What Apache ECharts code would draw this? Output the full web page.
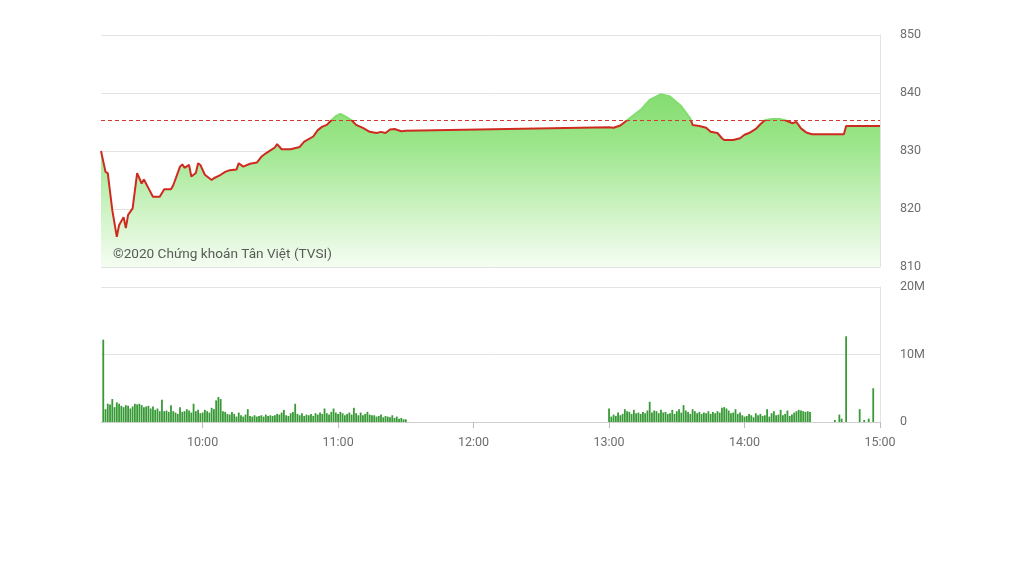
<!DOCTYPE html>
<html>
<head>
<meta charset="utf-8">
<script src="https://cdn.jsdelivr.net/npm/echarts@6/dist/echarts.min.js"></script>
<style>
html,body{margin:0;padding:0;background:#fff;}
#chart{width:1024px;height:574px;}
</style>
</head>
<body>
<div id="chart"></div>
<script>
// ---- Data ----
var priceTimes = ['09:15','09:17','09:18','09:20','09:22','09:23','09:25','09:26','09:27','09:29','09:31','09:33','09:34','09:36','09:38','09:41','09:43','09:46','09:47','09:50','09:51','09:52','09:54','09:55','09:57','09:58','09:59','10:01','10:04','10:05','10:08','10:10','10:12','10:15','10:16','10:18','10:21','10:24','10:26','10:28','10:30','10:32','10:33','10:35','10:39','10:43','10:45','10:49','10:51','10:53','10:55','10:57','10:59','11:01','11:03','11:06','11:08','11:11','11:14','11:17','11:19','11:21','11:23','11:25','11:28','11:30','13:00','13:02','13:05','13:08','13:14','13:18','13:23','13:27','13:32','13:36','13:37','13:40','13:43','13:45','13:48','13:50','13:51','13:55','13:58','14:00','14:02','14:05','14:07','14:09','14:12','14:16','14:18','14:20','14:21','14:23','14:25','14:27','14:28','14:30','14:44','14:45','15:00'];
var priceValues = [830.0,826.4,826.2,819.8,815.2,817.2,818.6,816.7,819.0,820.1,826.2,824.4,825.1,823.6,822.1,822.1,823.4,823.4,824.1,827.3,827.7,827.1,827.6,825.6,826.2,827.9,827.6,825.9,825.0,825.3,825.9,826.4,826.7,826.8,827.9,827.3,827.8,828.0,829.0,829.6,830.1,830.6,831.2,830.3,830.3,830.7,831.6,832.5,833.6,834.2,834.5,835.3,836.0,836.4,836.0,835.3,834.5,834.0,833.3,833.1,833.3,833.1,833.7,833.8,833.4,833.5,834.1,834.0,834.4,835.3,837.1,838.8,839.8,839.4,837.7,835.6,834.5,834.3,834.0,833.3,833.1,832.2,831.9,831.9,832.2,832.8,833.1,833.8,834.6,835.3,835.5,835.5,835.3,835.0,834.8,835.0,833.9,833.3,833.1,832.9,832.9,834.3,834.3];
var referencePrice = 835.3;

// volume in millions, one bar per minute
var volMorningStart = '09:16';
var volMorning = [12.2,1.9,2.7,2.6,3.4,2.2,2.9,2.7,2.4,2.2,2.5,2.4,2.0,2.3,2.7,
  2.6,2.7,2.5,2.2,2.3,2.4,2.0,2.3,1.8,2.0,1.6,3.3,1.6,1.7,1.5,
  2.5,1.6,1.4,1.2,2.2,1.5,1.6,1.9,1.7,1.4,2.7,1.6,1.8,1.3,1.4,
  1.8,1.6,1.4,2.1,1.9,3.2,3.7,3.4,1.6,1.5,1.2,1.1,1.5,1.2,0.8,
  1.4,1.0,0.8,1.1,1.9,0.9,0.8,1.0,0.8,0.9,1.0,0.8,1.1,0.9,1.0,
  0.9,1.0,1.2,1.1,1.4,1.8,1.0,0.9,1.3,1.5,2.7,1.2,1.0,1.3,0.9,
  1.1,1.0,1.2,0.9,1.3,1.1,1.4,1.2,2.0,1.3,1.1,1.5,2.0,1.4,1.2,
  1.5,1.3,1.0,1.2,1.4,1.1,2.1,1.3,1.0,1.4,1.0,1.2,1.5,1.1,1.0,
  1.0,0.8,0.9,1.1,0.7,0.9,0.8,0.7,1.0,0.6,0.8,0.5,0.6,0.4,0.4];
var volAfternoonStart = '13:00';
var volAfternoon = [2.0,0.8,1.1,0.9,1.4,1.0,1.2,1.9,1.6,1.5,1.2,1.8,1.3,1.4,1.2,
  1.5,1.3,1.7,3.0,1.4,1.7,1.6,1.3,1.8,1.4,1.5,1.2,1.3,1.8,1.2,
  1.6,1.9,1.4,2.5,1.7,1.5,1.2,1.9,1.6,1.3,1.5,1.2,1.4,1.3,1.6,
  1.2,1.5,1.3,1.6,1.4,2.1,2.2,2.0,1.7,1.3,1.4,1.9,1.2,1.4,1.0,
  0.8,0.9,1.2,1.0,0.7,1.3,1.0,1.2,0.9,1.0,1.9,0.8,1.3,1.6,1.0,
  1.1,1.8,1.0,1.2,1.7,0.9,1.1,1.4,1.6,1.8,1.7,1.6,1.5,1.6,1.5];
var volCloseTimes = ['14:40','14:42','14:43','14:45','14:51','14:53','14:55','14:57'];
var volCloseValues = [0.3,1.1,0.5,12.7,1.9,0.3,0.5,5.0];

var xTickTimes = ['10:00','11:00','12:00','13:00','14:00','15:00'];

// ---- helpers ----
function toMin(t){ var p = t.split(':'); return (+p[0])*60 + (+p[1]); }
function fmtMin(m){ var h = Math.floor(m/60), mm = m%60; return h + ':' + (mm<10?'0':'') + mm; }

var priceData = priceTimes.map(function(t,i){ return [toMin(t), priceValues[i]]; });
var volData = [];
volMorning.forEach(function(v,i){ volData.push([toMin(volMorningStart)+i, v]); });
volAfternoon.forEach(function(v,i){ volData.push([toMin(volAfternoonStart)+i, v]); });
volCloseTimes.forEach(function(t,i){ volData.push([toMin(t), volCloseValues[i]]); });
var tickVals = xTickTimes.map(toMin);

var X_MIN = toMin('09:15'), X_MAX = toMin('15:00');
var gridColor = '#e3e3e3';
var labelColor = '#6e6e6e';
var fontFam = 'Roboto, "Noto Sans", sans-serif';

var chart = echarts.init(document.getElementById('chart'), null, {renderer:'canvas'});
chart.setOption({
  animation: false,
  backgroundColor: '#ffffff',
  grid: [
    {left: 101, right: 144, top: 35, height: 232},
    {left: 101, right: 144, top: 287, height: 135}
  ],
  xAxis: [
    {type:'value', gridIndex:0, min:X_MIN, max:X_MAX, show:false, splitLine:{show:false}},
    {type:'value', gridIndex:1, min:X_MIN, max:X_MAX,
      splitLine:{show:false},
      axisLine:{show:true, lineStyle:{color:'#cfcfcf', width:1}},
      axisTick:{show:true, length:6, lineStyle:{color:'#bdbdbd'}, customValues: tickVals},
      axisLabel:{color:labelColor, fontSize:12.5, fontFamily:fontFam, margin:14, customValues: tickVals,
        formatter:function(v){ return fmtMin(v); }}
    }
  ],
  yAxis: [
    {type:'value', gridIndex:0, position:'right', min:810, max:850, interval:10,
      axisLine:{show:true, lineStyle:{color:gridColor}},
      axisTick:{show:false},
      splitLine:{show:true, lineStyle:{color:gridColor, width:1}},
      axisLabel:{color:labelColor, fontSize:12.5, fontFamily:fontFam, margin:20}
    },
    {type:'value', gridIndex:1, position:'right', min:0, max:20, interval:10,
      axisLine:{show:true, lineStyle:{color:gridColor}},
      axisTick:{show:false},
      splitLine:{show:true, lineStyle:{color:gridColor, width:1}},
      axisLabel:{color:labelColor, fontSize:12.5, fontFamily:fontFam, margin:20,
        formatter:function(v){ return v===0 ? '0' : v + 'M'; }}
    }
  ],
  visualMap: [{
    show:false, type:'piecewise', seriesIndex:0, dimension:1,
    pieces:[{gt:referencePrice, lte:900, color:'#82dc6f'},{gt:700, lte:referencePrice, color:'#cf2a20'}]
  }],
  series: [
    {
      type:'line', xAxisIndex:0, yAxisIndex:0, data:priceData,
      symbol:'none', smooth:false,
      lineStyle:{width:2},
      areaStyle:{origin:'start', opacity:1,
        color:new echarts.graphic.LinearGradient(0,0,0,1,[
          {offset:0, color:'#84dd70'},
          {offset:0.3, color:'#9de68c'},
          {offset:0.65, color:'#cbf2c1'},
          {offset:1, color:'#f5fdf2'}
        ])},
      markLine:{silent:true, symbol:'none', label:{show:false},
        lineStyle:{type:[4,3], color:'#d33a2f', width:1},
        data:[{yAxis:referencePrice}]},
      z:3
    },
    {
      type:'bar', xAxisIndex:1, yAxisIndex:1, data:volData,
      barWidth:1.8,
      itemStyle:{color:'#389a36'}
    }
  ],
  graphic: [{
    type:'text', left:113, top:248, z:100,
    style:{text:'©2020 Chứng khoán Tân Việt (TVSI)', fill:'#5a5a5a', font:'13.6px Roboto, "Noto Sans", sans-serif'}
  }]
});
</script>
</body>
</html>
